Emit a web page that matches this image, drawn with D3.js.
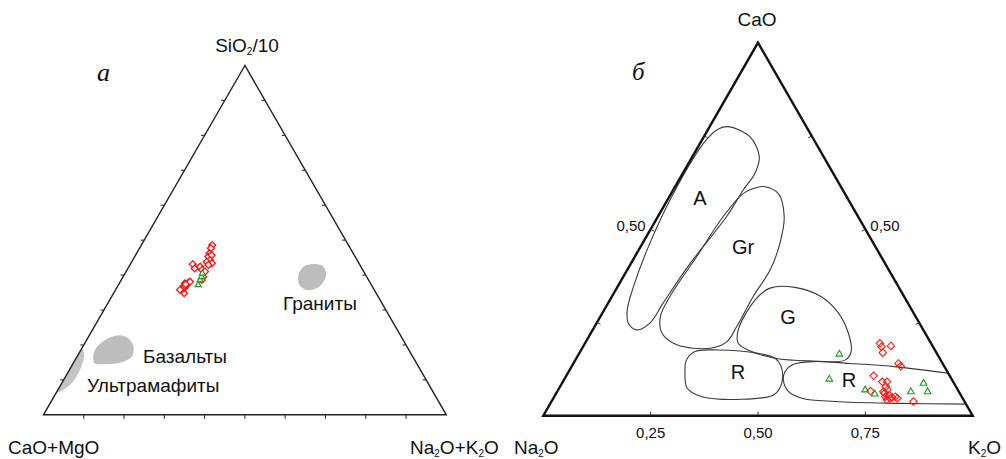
<!DOCTYPE html>
<html><head><meta charset="utf-8">
<script src="https://cdn.jsdelivr.net/npm/d3@7"></script>
<style>body{margin:0;background:#fff} svg{display:block}</style>
</head><body>
<svg id="chart" width="1006" height="459"></svg>
<script>
// ---- Diagram a: SiO2/10 – (CaO+MgO) – (Na2O+K2O); pairs are [SiO2/10, Na2O+K2O]
const aRed = [[0.486,0.176],[0.477,0.177],[0.462,0.181],[0.453,0.183],[0.457,0.189],[0.443,0.192],
  [0.438,0.186],[0.434,0.201],[0.429,0.195],[0.431,0.155],[0.419,0.166],[0.424,0.177],[0.415,0.186],
  [0.410,0.196],[0.395,0.199],[0.386,0.200],[0.376,0.163],[0.372,0.170],[0.367,0.164],[0.348,0.175],
  [0.378,0.170],[0.360,0.163],[0.381,0.173],[0.364,0.168],[0.362,0.166],[0.369,0.167],[0.358,0.160],
  [0.374,0.166]];
const aGreen = [[0.372,0.198],[0.386,0.196],[0.395,0.195],[0.405,0.192]];
const aGranites = [[0.400,0.433],[0.424,0.433],[0.432,0.454],[0.426,0.480],[0.405,0.499],
  [0.381,0.505],[0.362,0.497],[0.357,0.475],[0.372,0.449]];
const aBasalts = [[0.157,0.045],[0.186,0.035],[0.214,0.046],[0.228,0.072],[0.219,0.101],
  [0.195,0.126],[0.166,0.136],[0.149,0.115],[0.145,0.076],[0.147,0.054]];
const aUltramafic = [[0.195,-0.010],[0.190,0.000],[0.176,0.013],[0.143,0.024],[0.109,0.027],
  [0.085,0.023],[0.071,0.013],[0.062,0.000],[0.058,-0.012],[0.130,-0.020]];
const aTicks = [0.1,0.2,0.3,0.4,0.5,0.6,0.7,0.8,0.9];

// ---- Diagram б: CaO – Na2O – K2O; pairs are [CaO, K2O]
const bRed = [[0.194,0.687],[0.185,0.695],[0.187,0.716],[0.169,0.706],[0.140,0.757],[0.133,0.766],
  [0.107,0.716],[0.091,0.744],[0.091,0.755],[0.078,0.759],[0.064,0.760],[0.069,0.767],[0.066,0.729],
  [0.055,0.778],[0.051,0.771],[0.047,0.784],[0.051,0.794],[0.047,0.801],[0.042,0.779],[0.038,0.843],
  [0.060,0.765],[0.049,0.788]];
const bGreen = [[0.165,0.607],[0.098,0.617],[0.069,0.715],[0.058,0.743],[0.064,0.824],[0.087,0.842],[0.064,0.863]];
const fieldA = [[0.775,0.043],[0.748,0.107],[0.694,0.156],[0.650,0.168],[0.605,0.163],[0.534,0.160],
  [0.409,0.138],[0.301,0.128],[0.248,0.124],[0.230,0.103],[0.248,0.074],[0.283,0.054],[0.346,0.037],
  [0.462,0.017],[0.596,0.005],[0.730,0.008],[0.766,0.021]];
const fieldGr = [[0.614,0.209],[0.596,0.249],[0.534,0.294],[0.462,0.320],[0.391,0.333],[0.319,0.329],
  [0.239,0.331],[0.198,0.328],[0.181,0.298],[0.190,0.216],[0.221,0.166],[0.265,0.140],[0.319,0.135],
  [0.426,0.144],[0.534,0.152],[0.596,0.168],[0.612,0.191]];
const fieldG = [[0.342,0.357],[0.344,0.414],[0.319,0.488],[0.275,0.550],[0.221,0.600],[0.172,0.631],
  [0.149,0.628],[0.147,0.544],[0.154,0.463],[0.176,0.389],[0.194,0.357],[0.230,0.339],[0.310,0.338]];
const fieldR1 = [[0.114,0.273],[0.147,0.259],[0.172,0.267],[0.176,0.320],[0.167,0.417],[0.154,0.463],
  [0.133,0.487],[0.105,0.505],[0.074,0.514],[0.055,0.508],[0.044,0.440],[0.051,0.344],[0.069,0.304],[0.082,0.291]];
const fieldR2 = [[0.114,0.886],[0.131,0.757],[0.140,0.644],[0.145,0.557],[0.137,0.513],[0.117,0.504],
  [0.096,0.511],[0.066,0.537],[0.047,0.579],[0.038,0.660],[0.033,0.814],[0.031,0.969]];
const bBaseTicks = [0.25,0.50,0.75];
const bBaseLabels = ["0,25","0,50","0,75"];
const bSideTicks = [0.25,0.50,0.75];
const bSideLabel = "0,50";

const svg = d3.select("#chart");
const sans = "'Liberation Sans', Arial, Helvetica, sans-serif";
const serif = "'Liberation Serif', 'Times New Roman', serif";

// ---------- diagram a ----------
const ax = d3.scaleLinear().domain([0,1]).range([43.5,446.3]);
const ay = d3.scaleLinear().domain([0,1]).range([414.8,65.5]);
const pa = (s,n) => [ax(n + s/2), ay(s)];
const ga = svg.append("g");
const triA = [pa(1,0), pa(0,0), pa(0,1)];

ga.append("clipPath").attr("id","clipA").append("path")
  .attr("d", "M" + triA.join("L") + "Z");

const closedCurve = d3.line().curve(d3.curveCatmullRomClosed.alpha(0.5));
[aGranites, aBasalts].forEach(b => ga.append("path")
  .attr("d", closedCurve(b.map(d => pa(d[0],d[1])))).attr("fill","#bdbdbd"));
ga.append("path").attr("d", closedCurve(aUltramafic.map(d => pa(d[0],d[1]))))
  .attr("fill","#c4c4c4").attr("clip-path","url(#clipA)");

ga.append("path").attr("d","M" + triA.join("L") + "Z")
  .attr("fill","none").attr("stroke","#222").attr("stroke-width",1.4).attr("stroke-linejoin","miter");

// ticks on the three sides
aTicks.forEach(t => {
  const b = pa(0,t); ga.append("line").attr("x1",b[0]).attr("y1",b[1]).attr("x2",b[0]).attr("y2",b[1]+4);
  const l = pa(t,0); ga.append("line").attr("x1",l[0]).attr("y1",l[1]).attr("x2",l[0]-3.5).attr("y2",l[1]);
  const r = pa(t,1-t); ga.append("line").attr("x1",r[0]).attr("y1",r[1]).attr("x2",r[0]-3.5).attr("y2",r[1]);
});
ga.selectAll("line").attr("stroke","#222").attr("stroke-width",1);

const diamond = d3.symbol().type(d3.symbolDiamond2);
const tri = d3.symbol().type(d3.symbolTriangle2);
ga.selectAll(".red").data(aRed).join("path").attr("class","red")
  .attr("d", diamond.size(30)())
  .attr("transform", d => "translate(" + pa(d[0],d[1]) + ")")
  .attr("fill","#fff").attr("stroke","#ff1010").attr("stroke-width",1.3);
ga.selectAll(".grn").data(aGreen).join("path").attr("class","grn")
  .attr("d", tri.size(26)())
  .attr("transform", d => "translate(" + pa(d[0],d[1]) + ")")
  .attr("fill","#fff").attr("stroke","#1f9a1f").attr("stroke-width",1.2);

const txt = (g, x, y, s, size, anchor) => g.append("text").attr("x",x).attr("y",y)
  .attr("font-family",sans).attr("font-size",size).attr("fill","#111")
  .attr("text-anchor",anchor || "start").text(s);

txt(ga, 283, 310, "Граниты", 19);
txt(ga, 143, 363, "Базальты", 19);
txt(ga, 87, 392, "Ультрамафиты", 19);

// formula label with subscripted digits: parts are strings or {sub: "2"}
function chem(g, x, y, parts, anchor) {
  const t = g.append("text").attr("x",x).attr("y",y).attr("font-family",sans)
    .attr("font-size",19).attr("fill","#111").attr("text-anchor",anchor || "start");
  let shift = 0;
  parts.forEach(p => {
    if (typeof p === "string") {
      t.append("tspan").attr("dy", -shift).text(p); shift = 0;
    } else {
      t.append("tspan").attr("font-size",10).attr("dy",3 - shift).text(p.sub); shift = 3;
    }
  });
  return t;
}
chem(ga, 247, 52, ["SiO", {sub:"2"}, "/10"], "middle");
chem(ga, 8, 454, ["CaO+MgO"]);
chem(ga, 410, 454, ["Na", {sub:"2"}, "O+K", {sub:"2"}, "O"]);

ga.append("text").attr("x",97).attr("y",81).attr("font-family",serif).attr("font-style","italic")
  .attr("font-size",26).attr("fill","#111").text("а");

// ---------- diagram б ----------
const bx = d3.scaleLinear().domain([0,1]).range([543.3,972.7]);
const by = d3.scaleLinear().domain([0,1]).range([415.7,42.7]);
const pb = (c,k) => [bx(k + c/2), by(c)];
const gb = svg.append("g");
const triB = [pb(1,0), pb(0,0), pb(0,1)];

[fieldA, fieldGr, fieldG, fieldR1].forEach(f => gb.append("path")
  .attr("d", closedCurve(f.map(d => pb(d[0],d[1]))))
  .attr("fill","none").attr("stroke","#3a3a3a").attr("stroke-width",1.1));
gb.append("path").attr("d", d3.line().curve(d3.curveCatmullRom.alpha(0.5))(fieldR2.map(d => pb(d[0],d[1]))))
  .attr("fill","none").attr("stroke","#3a3a3a").attr("stroke-width",1.1);

gb.append("path").attr("d","M" + triB.join("L") + "Z")
  .attr("fill","none").attr("stroke","#111").attr("stroke-width",2.4).attr("stroke-linejoin","miter");

bBaseTicks.forEach(t => {
  const b = pb(0,t);
  gb.append("line").attr("x1",b[0]).attr("y1",b[1]).attr("x2",b[0]).attr("y2",b[1]-4);
});
bSideTicks.forEach(t => {
  const l = pb(t,0), r = pb(t,1-t);
  gb.append("line").attr("x1",l[0]).attr("y1",l[1]).attr("x2",l[0]+3.5).attr("y2",l[1]+2);
  gb.append("line").attr("x1",r[0]).attr("y1",r[1]).attr("x2",r[0]-3.5).attr("y2",r[1]+2);
});
gb.selectAll("line").attr("stroke","#333").attr("stroke-width",1);

bBaseTicks.forEach((t,i) => txt(gb, pb(0,t)[0], 438, bBaseLabels[i], 15, "middle"));
const sl = pb(0.5,0), sr = pb(0.5,0.5);
txt(gb, sl[0]-5, sl[1]+2, bSideLabel, 15, "end");
txt(gb, sr[0]+5, sr[1]+2, bSideLabel, 15, "start");

txt(gb, 700, 205, "A", 20, "middle");
txt(gb, 743, 254, "Gr", 20, "middle");
txt(gb, 788, 324, "G", 20, "middle");
txt(gb, 738, 379, "R", 20, "middle");
txt(gb, 849, 387, "R", 20, "middle");

gb.selectAll(".red").data(bRed).join("path").attr("class","red")
  .attr("d", diamond.size(36)())
  .attr("transform", d => "translate(" + pb(d[0],d[1]) + ")")
  .attr("fill","none").attr("stroke","#ff1a1a").attr("stroke-width",1.1);
gb.selectAll(".grn").data(bGreen).join("path").attr("class","grn")
  .attr("d", tri.size(32)())
  .attr("transform", d => "translate(" + pb(d[0],d[1]) + ")")
  .attr("fill","none").attr("stroke","#1f9a1f").attr("stroke-width",1.1);

chem(gb, 757, 26, ["CaO"], "middle");
chem(gb, 514, 454, ["Na", {sub:"2"}, "O"]);
chem(gb, 968, 454, ["K", {sub:"2"}, "O"]);

gb.append("text").attr("x",632).attr("y",80).attr("font-family",serif).attr("font-style","italic")
  .attr("font-size",25).attr("fill","#111").text("б");
</script>
</body></html>
